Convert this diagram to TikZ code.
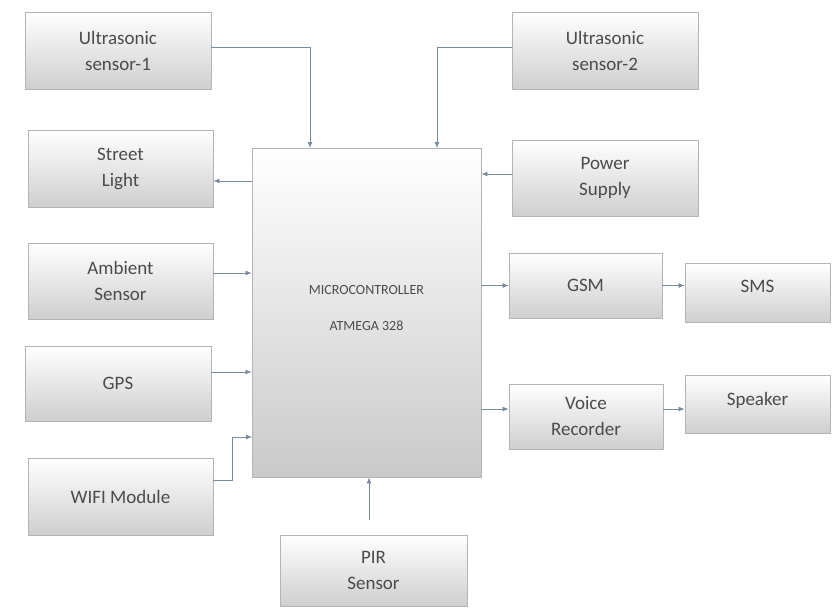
\documentclass[tikz,border=0pt]{standalone}
\usepackage{fontspec}
\setmainfont{Carlito}
\usetikzlibrary{arrows.meta,shadings}
\definecolor{boxline}{RGB}{178,180,182}
\definecolor{wire}{RGB}{120,140,158}
\definecolor{txt}{RGB}{75,75,75}
\tikzset{
  blk/.style={draw=boxline, line width=0.9pt, top color=white, bottom color=black!19,
    minimum width=#1, inner sep=2pt, align=center, text=txt,
    font=\fontsize{19}{26}\selectfont},
  conn/.style={draw=wire, line width=0.8pt, -{Latex[length=6pt,width=5pt]}},
}
\begin{document}
\begin{tikzpicture}[x=1pt,y=-1pt]
\useasboundingbox (0,0) rectangle (832,608);
% central controller
\node[blk=229pt, minimum height=329pt, top color=white, middle color=white, bottom color=black!21,
  font=\fontsize{14}{36}\selectfont] (mcu) at (366.5,312.5) {};
\node[text=txt, font=\fontsize{14}{36}\selectfont, align=center] (mcutext) at (366.5,308) {MICROCONTROLLER\\ATMEGA 328};
% left column
\node[blk=186pt, minimum height=77pt] (u1) at (118,50.5) {Ultrasonic\\sensor-1};
\node[blk=185pt, minimum height=77pt] (sl) at (120.5,168.5) {Street\\Light};
\node[blk=185pt, minimum height=76pt] (amb) at (120.5,281) {Ambient\\Sensor};
\node[blk=186pt, minimum height=75pt] (gps) at (118,383.5) {GPS};
\node[blk=185pt, minimum height=77pt] (wifi) at (120.5,496.5) {WIFI Module};
% bottom
\node[blk=187pt, minimum height=71pt] (pir) at (373.5,570.5) {PIR\\Sensor};
% right column
\node[blk=186pt, minimum height=77pt] (u2) at (605,50.5) {Ultrasonic\\sensor-2};
\node[blk=186pt, minimum height=76pt] (ps) at (605,178) {Power\\Supply};
\node[blk=153pt, minimum height=65pt] (gsm) at (585.5,285.5) {GSM};
\node[blk=145pt, minimum height=59pt, text depth=12pt] (sms) at (757.5,292.5) {SMS};
\node[blk=154pt, minimum height=65pt] (vr) at (586,416.5) {Voice\\Recorder};
\node[blk=145pt, minimum height=58pt, text depth=10pt] (spk) at (757.5,404) {Speaker};
% connection points
\coordinate (u1in) at (310,148);
\coordinate (u2in) at (437,148);
\coordinate (wifiin) at (252,437);
\coordinate (wifibend) at (232,480);
% connectors
\draw[conn] (u1.east |- 0,47) -| (u1in);
\draw[conn] (u2.west |- 0,47) -| (u2in);
\draw[conn] (mcu.west |- 0,181) -- (sl.east |- 0,181);
\draw[conn] (ps.west |- 0,174) -- (mcu.east |- 0,174);
\draw[conn] (amb.east |- 0,273) -- (mcu.west |- 0,273);
\draw[conn] (gps.east |- 0,372) -- (mcu.west |- 0,372);
\draw[conn] (wifi.east |- wifibend) -- (wifibend) |- (wifiin);
\draw[conn, shorten <=15pt] (pir.north -| 369,0) -- (mcu.south -| 369,0);
\draw[conn] (mcu.east |- gsm.west) -- (gsm.west);
\draw[conn] (gsm.east) -- (sms.west |- gsm.east);
\draw[conn] (mcu.east |- 0,409) -- (vr.west |- 0,409);
\draw[conn] (vr.east |- 0,409) -- (spk.west |- 0,409);
\end{tikzpicture}
\end{document}
